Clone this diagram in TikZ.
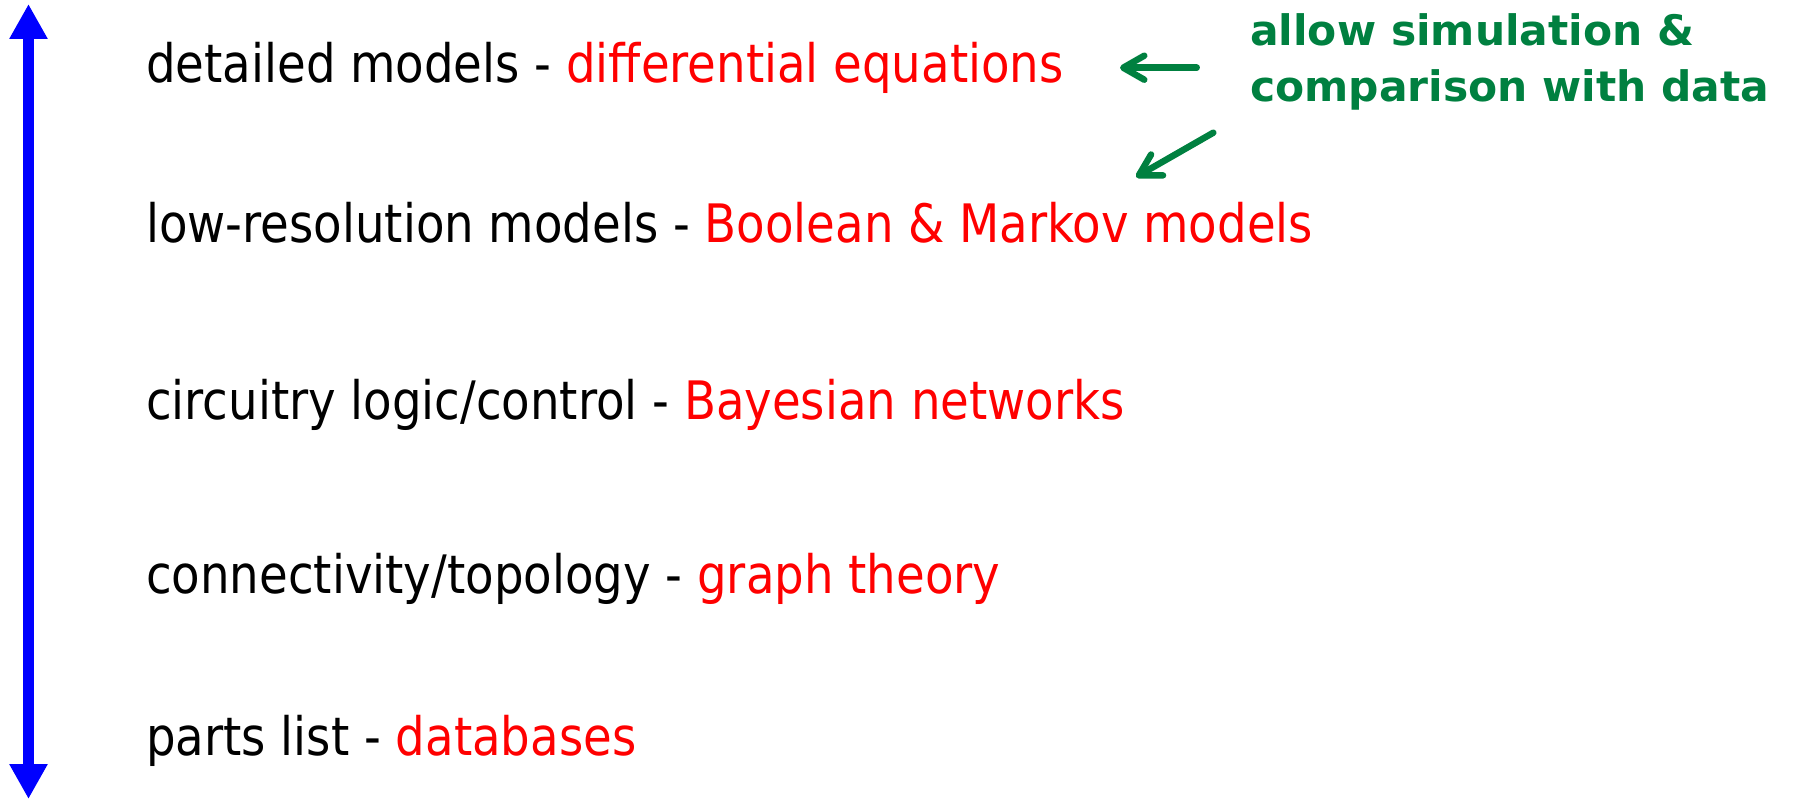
\documentclass[tikz,border=0pt]{standalone}
\usepackage{fontspec}
\setmainfont{DejaVu Sans Condensed}
\newfontfamily\lvlfont[FakeStretch=0.978]{DejaVu Sans Condensed}
\newfontfamily\notefont[FakeStretch=1.01]{DejaVu Sans}
\usetikzlibrary{arrows.meta}
\definecolor{dgreen}{RGB}{0,128,64}
\tikzset{
  level/.style={anchor=base west, inner sep=0pt, font=\lvlfont\fontsize{53}{60}\selectfont, text=black},
  note/.style={anchor=base west, inner sep=0pt, align=left, font=\notefont\bfseries\fontsize{42}{56.7}\selectfont, text=dgreen},
  scalearrow/.style={draw=blue, line width=11.6pt, {Triangle[width=36pt,length=35pt]}-{Triangle[width=36pt,length=35pt]}},
  hint/.style={draw=dgreen, line width=6.5pt, line cap=round, -{Straight Barb[length=21pt,width=24pt,round]}}
}
\begin{document}
\begin{tikzpicture}[x=1pt,y=-1pt]
\useasboundingbox (0,0) rectangle (1793,800);
\coordinate (top) at (28.5,4);
\coordinate (bot) at (28.5,799);
\draw[scalearrow] (bot) -- (top);
\node[level] (l1) at (146,82.7) {detailed models - \textcolor{red}{differential equations}};
\node[level] (l2) at (146,242.7) {low-resolution models - \textcolor{red}{Boolean \& Markov models}};
\node[level] (l3) at (146,419.3) {circuitry logic/control - \textcolor{red}{Bayesian networks}};
\node[level] (l4) at (146,593.3) {connectivity/topology - \textcolor{red}{graph theory}};
\node[level] (l5) at (146,755) {parts list - \textcolor{red}{databases}};
\node[note] (n) at (1250,101.7) {allow simulation \&\\comparison with data};
\coordinate (a1s) at (1196.7,67.7);
\coordinate (a1e) at (1120,67.7);
\coordinate (a2s) at (1213.3,132.7);
\coordinate (a2e) at (1136,177);
\draw[hint] (a1s) -- (a1e);
\draw[hint] (a2s) -- (a2e);
\end{tikzpicture}
\end{document}
